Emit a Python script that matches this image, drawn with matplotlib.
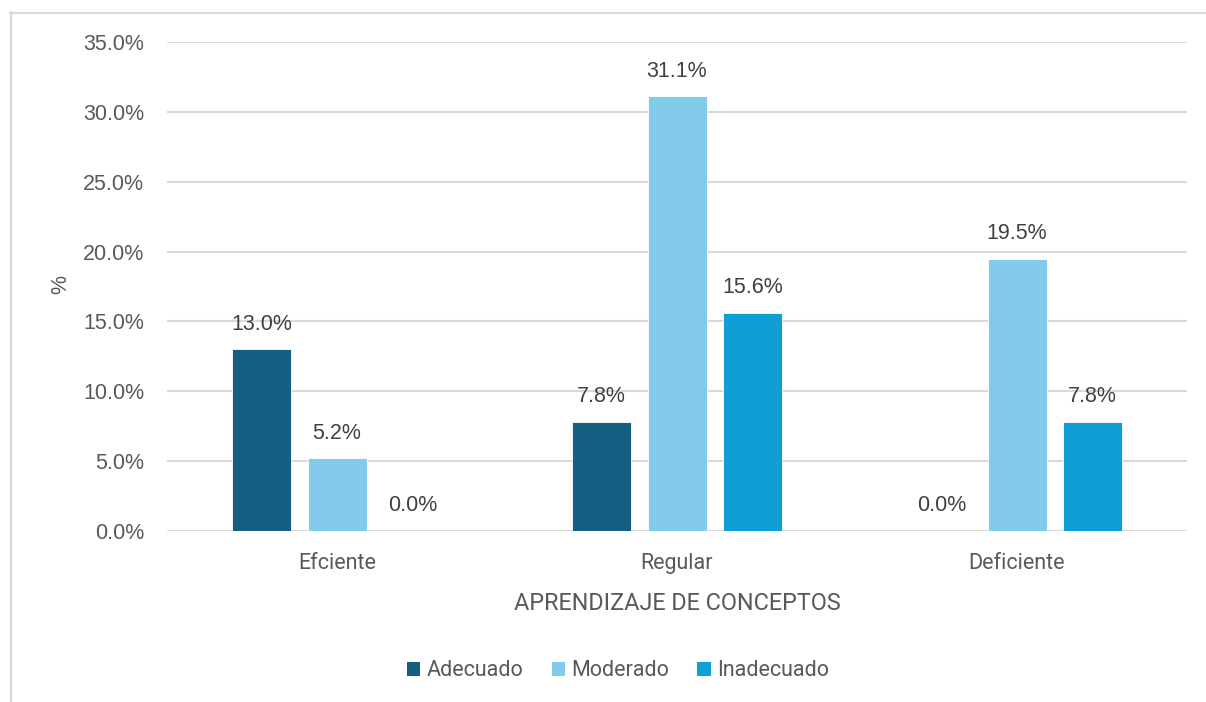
import matplotlib.pyplot as plt
from matplotlib.lines import Line2D
from matplotlib.patches import Patch
import numpy as np

categories = ["Efciente", "Regular", "Deficiente"]
series_names = ["Adecuado", "Moderado", "Inadecuado"]
adecuado = [13.0, 7.8, 0.0]
moderado = [5.2, 31.1, 19.5]
inadecuado = [0.0, 15.6, 7.8]
y_ticks = [0, 5, 10, 15, 20, 25, 30, 35]

colors = ["#156082", "#83CBEB", "#0F9ED5"]
axis_text = "#595959"
label_text = "#404040"
grid_col = "#D9D9D9"
num_font = "Liberation Sans"
word_font = "Roboto"

W, H = 1206, 702
fig = plt.figure(figsize=(W / 100, H / 100), dpi=100)
fig.patch.set_facecolor("white")

# chart frame (left and top edges visible)
fig.add_artist(Line2D([10.5 / W, 10.5 / W], [0, 1 - 12 / H], transform=fig.transFigure,
                      color=grid_col, lw=1.5))
fig.add_artist(Line2D([10 / W, 1], [1 - 12.5 / H, 1 - 12.5 / H], transform=fig.transFigure,
                      color=grid_col, lw=1.5))

left, right = 167 / W, 1187 / W
bottom, top = 1 - 531 / H, 1 - 42 / H
ax = fig.add_axes([left, bottom, right - left, top - bottom])

x = np.arange(len(categories))
bar_w = 59 / 340
offset = 75.5 / 340
all_series = [adecuado, moderado, inadecuado]
for i, (vals, col, name) in enumerate(zip(all_series, colors, series_names)):
    pos = x + (i - 1) * offset
    ax.bar(pos, vals, width=bar_w, color=col, edgecolor="white", linewidth=0.6,
           label=name, zorder=3)
    for p, v in zip(pos, vals):
        ax.annotate(f"{v:.1f}%", (p, v), xytext=(0, 10.5), textcoords="offset points",
                    ha="center", va="bottom", fontsize=15.5, color=label_text,
                    family=num_font, zorder=4)

ax.set_xlim(-0.5, len(categories) - 0.5)
ax.set_ylim(0, 35)
ax.set_yticks(y_ticks)
ax.set_yticklabels([f"{t:.1f}%" for t in y_ticks], fontsize=15.5, color=axis_text,
                   family=num_font)
ax.set_xticks(x)
ax.set_xticklabels(categories, fontsize=15.5, color=axis_text, family=word_font)
ax.tick_params(axis="both", length=0)
ax.tick_params(axis="y", pad=16.5)
ax.tick_params(axis="x", pad=16)
ax.grid(axis="y", color=grid_col, lw=1.5, zorder=0)
for s in ax.spines.values():
    s.set_visible(False)
ax.axhline(0, color=grid_col, lw=1.5, zorder=2)

ax.set_xlabel("APRENDIZAJE DE CONCEPTOS", fontsize=16.8, color=axis_text,
              family=word_font, labelpad=13)
fig.text(61 / W, 1 - 285 / H, "%", rotation=90, fontsize=15.5, color=axis_text,
         family=num_font, ha="center", va="center")

handles = [Patch(facecolor=c, edgecolor="none") for c in colors]
fig.legend(handles, series_names, loc="center", bbox_to_anchor=(618 / W, 1 - 671 / H),
           ncol=3, frameon=False, handlelength=0.62, handleheight=0.62,
           handletextpad=0.3, columnspacing=1.3,
           prop={"family": word_font, "size": 15.5}, labelcolor=axis_text)

fig.savefig("out.png", dpi=100, facecolor="white")
